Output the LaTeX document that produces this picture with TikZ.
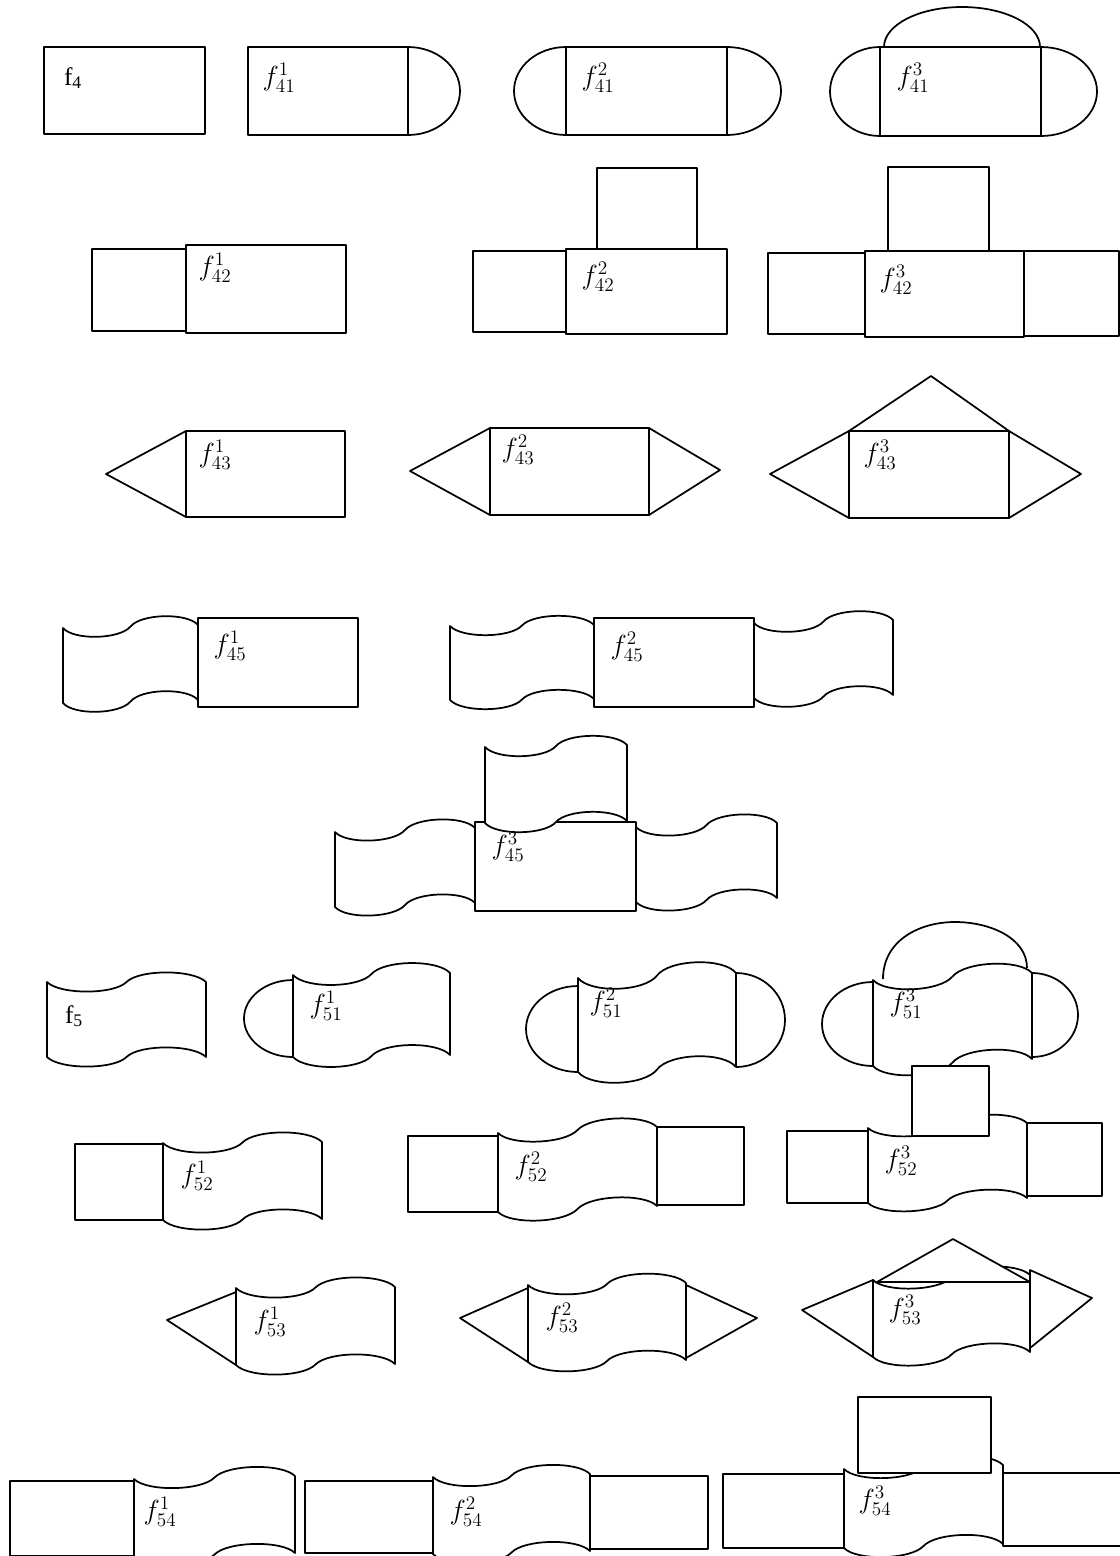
\documentclass[tikz,border=0pt]{standalone}
\usepackage{fontspec}
\setmainfont{Liberation Serif}
\tikzset{
  shp/.style={draw=black, line width=1.3pt, fill=white, line join=round},
  arcl/.style={draw=black, line width=1.3pt},
  lbl/.style={inner sep=0pt, font=\fontsize{20}{24}\selectfont},
  plbl/.style={inner sep=0pt, font=\fontsize{19}{22}\selectfont},
}
% wave (tape) shape: x, y (top-left corner), width, height, right-side offset
\newcommand\wave[5]{%
  \draw[shp] (#1,#2)
    .. controls ({#1+0.08*#3},{#2+0.17*#4+0.08*#5}) and ({#1+0.42*#3},{#2+0.17*#4+0.42*#5}) .. ({#1+0.5*#3},{#2+0.5*#5})
    .. controls ({#1+0.58*#3},{#2-0.17*#4+0.58*#5}) and ({#1+0.92*#3},{#2-0.17*#4+0.92*#5}) .. ({#1+#3},{#2+#5})
    -- ({#1+#3},{#2+#4+#5})
    .. controls ({#1+0.92*#3},{#2+0.83*#4+0.92*#5}) and ({#1+0.58*#3},{#2+0.83*#4+0.58*#5}) .. ({#1+0.5*#3},{#2+#4+0.5*#5})
    .. controls ({#1+0.42*#3},{#2+1.17*#4+0.42*#5}) and ({#1+0.08*#3},{#2+1.17*#4+0.08*#5}) .. (#1,{#2+#4})
    -- cycle;}
\begin{document}
\begin{tikzpicture}[x=0.75pt,y=-0.75pt]
\useasboundingbox (0,0) rectangle (1120,1556);
% ---------- Row 1 ----------
\draw[shp] (44,47) rectangle (205,134);
\node[plbl] (l4) at (73,78) {f\textsubscript{4}};

\draw[shp] (248,47) rectangle (408,135);
\draw[arcl] (408,47) arc[start angle=-90,end angle=90,x radius=52,y radius=44];
\node[lbl] (l411) at (279,78) {$f_{41}^{1}$};

\draw[shp] (566,47) rectangle (727,135);
\draw[arcl] (566,47) arc[start angle=-90,end angle=-270,x radius=52,y radius=44];
\draw[arcl] (727,47) arc[start angle=-90,end angle=90,x radius=54,y radius=44];
\node[lbl] (l412) at (598,78) {$f_{41}^{2}$};

\draw[shp] (880,47) rectangle (1041,136);
\draw[arcl] (880,47) arc[start angle=-90,end angle=-270,x radius=50,y radius=44.5];
\draw[arcl] (1041,47) arc[start angle=-90,end angle=90,x radius=56,y radius=44.5];
\draw[arcl] (884,47) arc[start angle=180,end angle=360,x radius=78,y radius=40];
\node[lbl] (l413) at (913,78) {$f_{41}^{3}$};

% ---------- Row 2 ----------
\draw[shp] (92,249) rectangle (186,331);
\draw[shp] (186,245) rectangle (346,333);
\node[lbl] (l421) at (215,268) {$f_{42}^{1}$};

\draw[shp] (597,168) rectangle (697,249);
\draw[shp] (473,251) rectangle (566,332);
\draw[shp] (566,249) rectangle (727,334);
\node[lbl] (l422) at (598,277) {$f_{42}^{2}$};

\draw[shp] (888,167) rectangle (989,251);
\draw[shp] (768,253) rectangle (865,334);
\draw[shp] (865,251) rectangle (1024,337);
\draw[shp] (1024,251) rectangle (1119,336);
\node[lbl] (l423) at (896,280) {$f_{42}^{3}$};

% ---------- Row 3 ----------
\draw[shp] (186,431) -- (106,474) -- (186,517) -- cycle;
\draw[shp] (186,431) rectangle (345,517);
\node[lbl] (l431) at (215,455) {$f_{43}^{1}$};

\draw[shp] (490,428) -- (410,471) -- (490,515) -- cycle;
\draw[shp] (649,428) -- (720,470) -- (649,515) -- cycle;
\draw[shp] (490,428) rectangle (649,515);
\node[lbl] (l432) at (518,450) {$f_{43}^{2}$};

\draw[shp] (849,431) -- (931,376) -- (1009,431) -- cycle;
\draw[shp] (849,431) -- (770,474) -- (849,518) -- cycle;
\draw[shp] (1009,431) -- (1081,474) -- (1009,518) -- cycle;
\draw[shp] (849,431) rectangle (1009,518);
\node[lbl] (l433) at (880,455) {$f_{43}^{3}$};

% ---------- Row 4 ----------
\wave{63}{628}{135}{75}{-3}
\draw[shp] (198,618) rectangle (358,707);
\node[lbl] (l451) at (230,646) {$f_{45}^{1}$};

\wave{450}{626}{144}{74}{-1}
\wave{754}{623}{139}{75}{-3}
\draw[shp] (594,618) rectangle (754,707);
\node[lbl] (l452) at (627,647) {$f_{45}^{2}$};

\wave{335}{832}{140}{75}{-4}
\wave{636}{827}{141}{75}{-4}
\draw[shp] (475,822) rectangle (636,911);
\wave{485}{747}{142}{76}{-2}
\node[lbl] (l453) at (508,847) {$f_{45}^{3}$};

% ---------- Row 5 ----------
\wave{47}{982}{159}{75}{0}
\node[plbl] (l5) at (74,1016) {f\textsubscript{5}};

\wave{293}{975}{157}{82}{-2}
\draw[arcl] (293,980) arc[start angle=-90,end angle=-270,x radius=49,y radius=38.5];
\node[lbl] (l511) at (326,1006) {$f_{51}^{1}$};

\wave{578}{978}{158}{94}{-5}
\draw[arcl] (578,986) arc[start angle=-90,end angle=-270,x radius=52,y radius=43];
\draw[arcl] (736,973) arc[start angle=-90,end angle=90,x radius=49,y radius=47];
\node[lbl] (l512) at (606,1003) {$f_{51}^{2}$};

\wave{873}{980}{159}{86}{-7}
\draw[arcl] (873,982) arc[start angle=-90,end angle=-270,x radius=51,y radius=42];
\draw[arcl] (1032,973) arc[start angle=-90,end angle=90,x radius=46,y radius=42];
\draw[arcl] (883,979) .. controls (883,940) and (920,922) .. (955,922) .. controls (990,922) and (1027,938) .. (1027,968);
\node[lbl] (l513) at (906,1004) {$f_{51}^{3}$};

% ---------- Row 6 ----------
\wave{163}{1143}{159}{77}{-1}
\draw[shp] (75,1144) rectangle (163,1220);
\node[lbl] (l521) at (197,1176) {$f_{52}^{1}$};

\wave{498}{1133}{159}{79}{-6}
\draw[shp] (408,1136) rectangle (498,1212);
\draw[shp] (657,1127) rectangle (744,1205);
\node[lbl] (l522) at (531,1167) {$f_{52}^{2}$};

\wave{868}{1128}{159}{75}{-5}
\draw[shp] (787,1131) rectangle (868,1203);
\draw[shp] (912,1066) rectangle (989,1136);
\draw[shp] (1027,1123) rectangle (1102,1196);
\node[lbl] (l523) at (901,1161) {$f_{52}^{3}$};

% ---------- Row 7 ----------
\wave{236}{1288}{159}{77}{-1}
\draw[shp] (236,1292) -- (167,1320) -- (236,1365) -- cycle;
\node[lbl] (l531) at (270,1322) {$f_{53}^{1}$};

\wave{528}{1285}{158}{77}{-2}
\draw[shp] (528,1288) -- (460,1318) -- (528,1362) -- cycle;
\draw[shp] (686,1285) -- (757,1318) -- (686,1358) -- cycle;
\node[lbl] (l532) at (562,1318) {$f_{53}^{2}$};

\wave{873}{1280}{157}{77}{-5}
\draw[shp] (873,1280) -- (802,1310) -- (873,1357) -- cycle;
\draw[shp] (1030,1270) -- (1092,1298) -- (1030,1348) -- cycle;
\draw[shp] (877,1282) -- (953,1239) -- (1030,1282) -- cycle;
\node[lbl] (l533) at (905,1310) {$f_{53}^{3}$};

% ---------- Row 8 ----------
\wave{134}{1479}{161}{77}{-3}
\draw[shp] (10,1481) rectangle (134,1556);
\node[lbl] (l541) at (160,1512) {$f_{54}^{1}$};

\wave{433}{1477}{157}{77}{-3}
\draw[shp] (305,1481) rectangle (433,1553);
\draw[shp] (590,1476) rectangle (708,1549);
\node[lbl] (l542) at (466,1512) {$f_{54}^{2}$};

\wave{844}{1469}{159}{79}{-4}
\draw[shp] (723,1474) rectangle (844,1548);
\draw[shp] (858,1397) rectangle (991,1473);
\draw[shp] (1003,1473) rectangle (1125,1546);
\node[lbl] (l543) at (875,1501) {$f_{54}^{3}$};
\end{tikzpicture}
\end{document}
